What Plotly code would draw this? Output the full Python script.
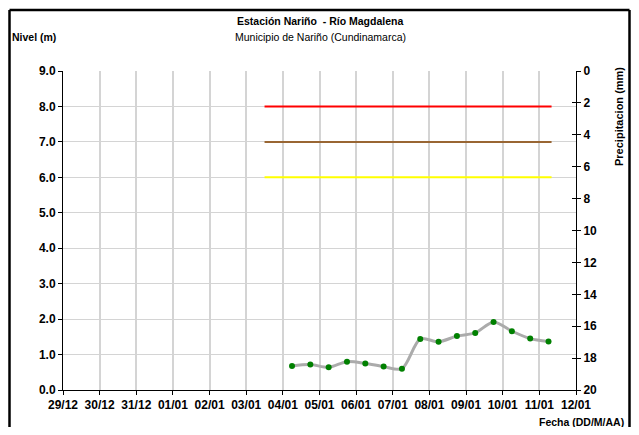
import plotly.graph_objects as go

# ---- data ----
dates = ["2011-01-04 06:00", "2011-01-04 18:00", "2011-01-05 06:00", "2011-01-05 18:00",
         "2011-01-06 06:00", "2011-01-06 18:00", "2011-01-07 06:00", "2011-01-07 18:00",
         "2011-01-08 06:00", "2011-01-08 18:00", "2011-01-09 06:00", "2011-01-09 18:00",
         "2011-01-10 06:00", "2011-01-10 18:00", "2011-01-11 06:00"]
nivel = [0.68, 0.72, 0.64, 0.80, 0.75, 0.66, 0.60, 1.44, 1.36, 1.52, 1.61, 1.92, 1.66, 1.45, 1.37]

umbral_inicio = "2011-01-03 12:00"
umbral_fin = "2011-01-11 08:00"
umbral_rojo = 8.0
umbral_naranja = 7.0
umbral_amarillo = 6.0

x_range = ["2010-12-29", "2011-01-12"]
y_range = [0, 9]
precip_range = [20, 0]

title_text = "Estación Nariño  - Río Magdalena"
subtitle_text = "Municipio de Nariño (Cundinamarca)"

# ---- geometry (page pixels; the page body has an 8px margin on every side) ----
OFF = 8
W, H = 639 - 2 * OFF, 435 - 2 * OFF
PLOT_L, PLOT_R, PLOT_T, PLOT_B = 63, 576, 71, 390  # page pixels
L = PLOT_L - OFF
R = W - (PLOT_R - OFF)
T = PLOT_T - OFF
B = H - (PLOT_B - OFF)
PW, PH = PLOT_R - PLOT_L, PLOT_B - PLOT_T


def px(p):
    return (p - PLOT_L) / PW


def py(p):
    return (PLOT_B - p) / PH


FONT = "Liberation Sans, Arial, sans-serif"
tickfont = dict(family=FONT, size=12, color="black", weight="bold")

fig = go.Figure()

for val, col in [(umbral_rojo, "#FF0000"), (umbral_naranja, "#996633"), (umbral_amarillo, "#FFFF00")]:
    fig.add_trace(go.Scatter(x=[umbral_inicio, umbral_fin], y=[val, val], mode="lines",
                             line=dict(color=col, width=2), showlegend=False, hoverinfo="skip"))

fig.add_trace(go.Scatter(x=dates, y=nivel, mode="lines+markers",
                         line=dict(color="#ABABAB", width=3, shape="spline", smoothing=0.8),
                         marker=dict(color="#008000", size=6), showlegend=False))

# invisible traces for the right axis
fig.add_trace(go.Scatter(x=[x_range[0]], y=[None], yaxis="y2", mode="lines", showlegend=False, hoverinfo="skip"))
fig.add_trace(go.Scatter(x=[x_range[0]], y=[None], yaxis="y3", mode="lines", showlegend=False, hoverinfo="skip"))

border = dict(color="black", width=2.5)
frame_left, frame_right, frame_top, frame_bottom = 9.5, 629.5, 10, 440

fig.update_layout(
    width=W, height=H,
    margin=dict(l=L, r=R, t=T, b=B, autoexpand=False),
    paper_bgcolor="white", plot_bgcolor="white",
    font=dict(family=FONT, size=11, color="black"),
    xaxis=dict(type="date", range=x_range, tickformat="%d/%m", dtick=86400000, tick0="2010-12-29",
               showgrid=True, gridcolor="#D4D4D4", gridwidth=1.5,
               showline=True, linecolor="black", linewidth=1,
               ticks="outside", ticklen=4, tickcolor="black", tickfont=tickfont, zeroline=False),
    yaxis=dict(range=y_range, dtick=1, tickformat=".1f", showgrid=True, gridcolor="#D4D4D4", gridwidth=1,
               showline=True, linecolor="black", linewidth=1,
               ticks="outside", ticklen=4, tickcolor="black", tickfont=tickfont, zeroline=False),
    yaxis2=dict(range=precip_range, dtick=2, overlaying="y", side="right", anchor="x",
                showgrid=False, showline=True, linecolor="black", linewidth=1,
                ticks="outside", ticklen=4, tickcolor="black", tickfont=tickfont, zeroline=False),
    yaxis3=dict(range=precip_range, dtick=2, overlaying="y", side="right", anchor="x",
                showgrid=False, showline=False, showticklabels=False,
                ticks="inside", ticklen=4, tickcolor="black", zeroline=False),
    shapes=[
        dict(type="line", xref="paper", yref="paper", x0=px(frame_left), x1=px(frame_right),
             y0=py(frame_top), y1=py(frame_top), line=border, layer="above"),
        dict(type="line", xref="paper", yref="paper", x0=px(frame_left), x1=px(frame_left),
             y0=py(frame_top), y1=py(frame_bottom), line=border, layer="above"),
        dict(type="line", xref="paper", yref="paper", x0=px(frame_right), x1=px(frame_right),
             y0=py(frame_top), y1=py(frame_bottom), line=border, layer="above"),
    ],
    annotations=[
        dict(text="<b>" + title_text + "</b>", x=px(320), y=py(21), xref="paper", yref="paper",
             showarrow=False, font=dict(family=FONT, size=10.5), xanchor="center", yanchor="middle"),
        dict(text=subtitle_text, x=px(320), y=py(37), xref="paper", yref="paper",
             showarrow=False, font=dict(family=FONT, size=10.5), xanchor="center", yanchor="middle"),
        dict(text="<b>Nivel (m)</b>", x=px(10), y=py(37), xref="paper", yref="paper",
             showarrow=False, font=dict(family=FONT, size=10.5), xanchor="left", yanchor="middle"),
        dict(text="<b>Precipitacion (mm)</b>", x=px(619), y=py(117), xref="paper", yref="paper",
             showarrow=False, font=dict(family=FONT, size=11), textangle=-90,
             xanchor="center", yanchor="middle"),
        dict(text="<b>Fecha (DD/M/AA)</b>", x=px(626), y=py(422), xref="paper", yref="paper",
             showarrow=False, font=dict(family=FONT, size=10.5), xanchor="right", yanchor="middle"),
    ],
)

fig.write_html("out.html")
